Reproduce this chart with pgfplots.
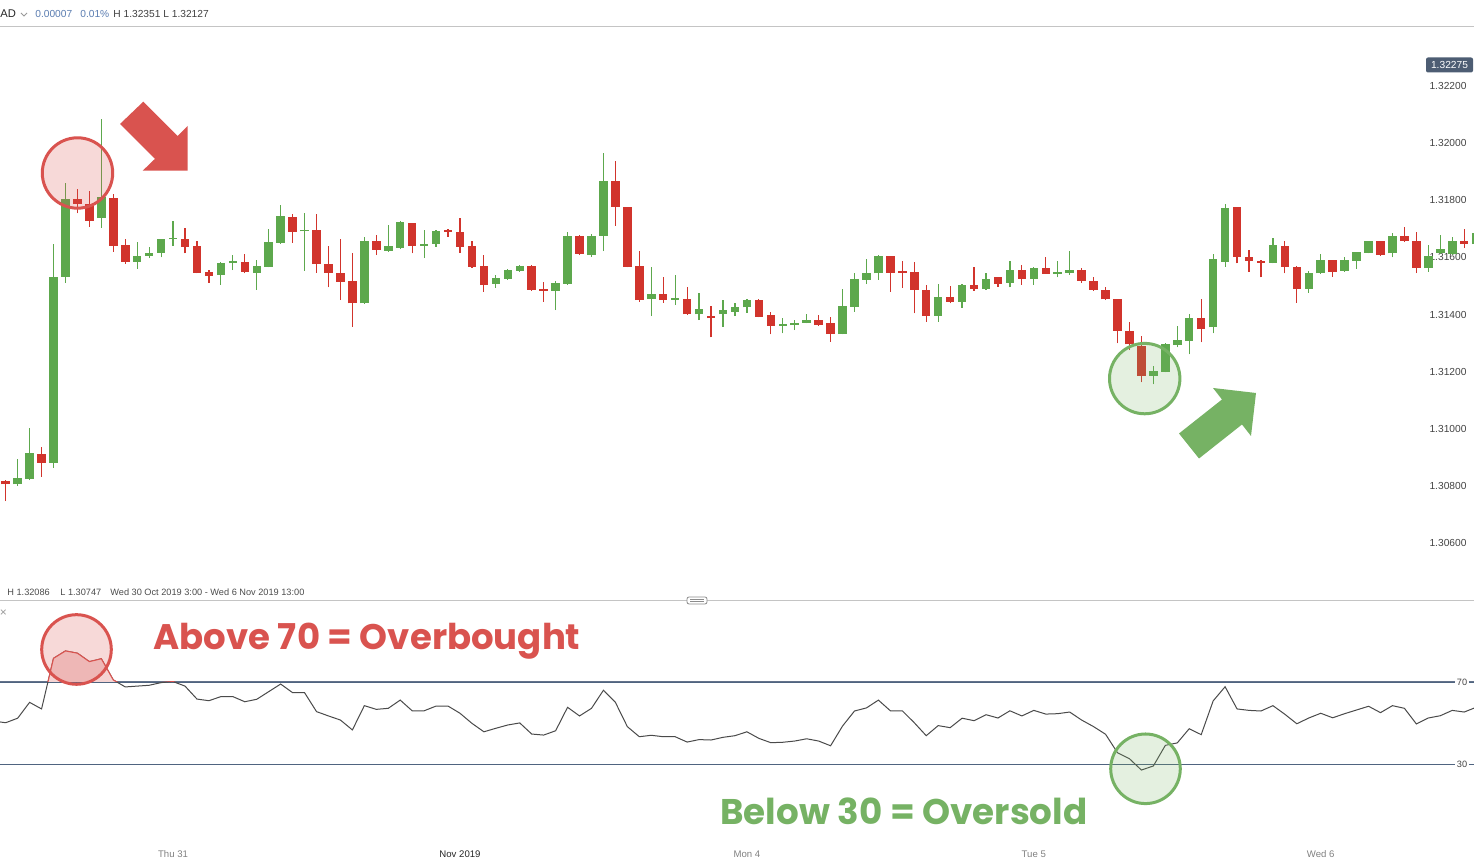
\documentclass[border=0pt]{standalone}
\usepackage{fontspec}
\setmainfont{Liberation Sans}
\newfontfamily\annofont{Poppins}
\usepackage{graphicx}
\usepackage{pgfplots}
\usepackage{pgfplotstable}
\pgfplotsset{compat=1.18}
\definecolor{cgreen}{HTML}{5DA84D}
\definecolor{cred}{HTML}{D1342C}
\definecolor{annored}{HTML}{D9534F}
\definecolor{annogreen}{HTML}{76B264}
\definecolor{rsiline}{HTML}{4A4A4A}
\definecolor{slate}{HTML}{4F6480}
\definecolor{tagbg}{HTML}{4D5D73}
\definecolor{hdrblue}{HTML}{5B7DB1}
\definecolor{lbl}{HTML}{444444}
\definecolor{sep}{HTML}{C4C4C4}

% prices in units of 0.00001 above 1.30000 (e.g. 1600 = 1.31600)
\pgfplotstableread{
i o h l c
1 805 894 800 826
2 824 1001 820 914
4 881 1647 863 1532
5 1532 1861 1511 1804
8 1737 2086 1704 1810
11 1585 1655 1561 1605
12 1605 1635 1597 1616
13 1616 1666 1600 1663
14 1663 1727 1641 1669
18 1540 1584 1505 1582
19 1579 1608 1555 1586
21 1546 1591 1486 1570
22 1567 1698 1565 1654
23 1651 1783 1647 1745
25 1691 1754 1553 1697
30 1439 1672 1438 1657
32 1623 1713 1620 1640
33 1634 1728 1629 1725
35 1641 1696 1597 1647
36 1648 1696 1637 1693
41 1507 1538 1494 1529
42 1525 1559 1522 1556
43 1553 1575 1550 1570
46 1483 1518 1415 1509
47 1507 1688 1505 1675
49 1608 1682 1602 1675
50 1675 1966 1622 1867
54 1454 1567 1394 1472
56 1452 1538 1433 1458
58 1400 1474 1380 1418
60 1400 1450 1357 1415
61 1410 1441 1394 1427
62 1425 1456 1406 1450
65 1360 1386 1334 1366
66 1363 1380 1345 1371
67 1371 1401 1369 1380
70 1331 1491 1330 1429
71 1427 1544 1409 1523
72 1521 1593 1506 1544
73 1544 1609 1521 1605
78 1396 1506 1375 1460
80 1445 1506 1424 1503
82 1489 1547 1487 1526
84 1511 1587 1495 1556
86 1525 1565 1505 1563
88 1543 1587 1530 1549
89 1546 1623 1540 1556
96 1185 1219 1155 1202
97 1199 1301 1197 1296
98 1293 1359 1285 1310
99 1307 1401 1260 1387
101 1355 1611 1334 1593
102 1584 1787 1567 1772
106 1581 1669 1579 1643
109 1490 1553 1476 1544
110 1544 1612 1542 1591
112 1553 1600 1550 1591
113 1588 1620 1561 1619
114 1616 1658 1614 1657
116 1614 1686 1600 1675
119 1562 1643 1550 1605
120 1617 1677 1612 1630
121 1612 1672 1610 1657
123 1646 1700 1640 1684
}\upc
\pgfplotstableread{
i o h l c
0 817 820 747 805
3 913 937 832 881
6 1804 1839 1754 1786
7 1786 1833 1707 1728
9 1807 1821 1620 1641
10 1643 1663 1577 1585
15 1663 1704 1614 1637
16 1640 1657 1544 1546
17 1550 1556 1511 1536
20 1583 1612 1544 1550
24 1740 1751 1651 1690
26 1696 1751 1546 1576
27 1577 1641 1495 1546
28 1545 1663 1450 1515
29 1517 1614 1357 1439
31 1657 1678 1608 1626
34 1720 1721 1614 1640
37 1696 1700 1672 1688
38 1688 1737 1616 1637
39 1640 1657 1564 1567
40 1570 1608 1480 1504
44 1570 1573 1484 1486
45 1489 1515 1445 1483
48 1675 1678 1610 1612
51 1867 1937 1710 1777
52 1776 1777 1565 1567
53 1570 1622 1445 1450
55 1472 1532 1441 1450
57 1456 1497 1399 1400
59 1394 1429 1320 1387
63 1450 1456 1390 1392
64 1397 1407 1330 1360
68 1380 1398 1361 1363
69 1369 1390 1304 1331
74 1605 1606 1480 1546
75 1552 1587 1494 1546
76 1549 1583 1404 1486
77 1486 1505 1375 1396
79 1461 1499 1439 1445
81 1503 1567 1483 1489
83 1531 1533 1497 1508
85 1556 1573 1505 1525
87 1563 1602 1542 1543
90 1556 1563 1511 1518
91 1517 1532 1484 1486
92 1486 1497 1450 1453
93 1454 1456 1299 1343
94 1342 1372 1275 1295
95 1289 1324 1162 1185
100 1387 1454 1302 1348
103 1775 1777 1579 1602
104 1600 1626 1550 1588
105 1588 1591 1530 1581
107 1640 1657 1544 1567
108 1565 1570 1441 1490
111 1591 1592 1532 1550
115 1657 1658 1605 1608
117 1675 1705 1653 1658
118 1657 1688 1545 1562
122 1657 1698 1632 1646
}\downc
\pgfplotstableread{
i r
-1 51.0
0 50.2
1 52.4
2 60.1
3 56.9
4 81.5
5 85.1
6 84.0
7 79.9
8 81.3
9 71.0
10 67.6
11 68.0
12 68.4
13 69.7
14 70.2
15 68.0
16 61.7
17 60.9
18 62.9
19 62.9
20 60.4
21 61.6
22 65.3
23 69.0
24 64.8
25 64.8
26 55.6
27 53.5
28 51.5
29 46.7
30 58.5
31 56.7
32 57.2
33 61.2
34 56.0
35 56.0
36 58.3
37 58.3
38 54.8
39 49.9
40 45.8
41 47.5
42 49.1
43 50.1
44 44.7
45 44.2
46 46.3
47 57.7
48 53.5
49 57.2
50 66.0
51 60.1
52 48.3
53 43.4
54 44.1
55 43.4
56 43.4
57 40.8
58 42.0
59 41.8
60 43.1
61 43.9
62 45.8
63 42.6
64 40.5
65 40.7
66 41.3
67 42.4
68 41.3
69 39.0
70 48.6
71 55.9
72 57.4
73 61.2
74 56.0
75 56.0
76 50.2
77 43.9
78 48.8
79 47.8
80 52.4
81 51.2
82 54.1
83 52.5
84 56.0
85 53.5
86 56.2
87 54.4
88 54.6
89 55.4
90 51.5
91 48.3
92 44.6
93 35.6
94 32.7
95 27.2
96 29.2
97 39.2
98 40.4
99 47.3
100 44.4
101 60.8
102 67.7
103 56.9
104 56.2
105 55.9
106 58.5
107 54.3
108 49.7
109 52.5
110 54.8
111 52.6
112 54.6
113 56.4
114 58.2
115 55.1
116 58.5
117 57.2
118 49.6
119 52.5
120 53.6
121 56.2
122 55.4
123 57.7
}\rsi

\pgfplotsset{candle/.style={draw=none, no markers, forget plot,
  error bars/y dir=plus, error bars/y explicit, error bars/error mark=none}}

\begin{document}
\begin{tikzpicture}
\path[use as bounding box] (0,0) rectangle (737pt,430pt);

% ---------------- price panel ----------------
\begin{axis}[
  at={(0pt,130pt)}, anchor=south west,
  width=737pt, height=286pt, scale only axis,
  xmin=-0.4768, xmax=122.82, ymin=400.5, ymax=2403.1,
  axis line style={draw=none}, tick style={draw=none},
  major tick length=0pt,
  xtick=\empty,
  ytick={600,800,...,2200},
  yticklabels={1.30600,1.30800,1.31000,1.31200,1.31400,1.31600,1.31800,1.32000,1.32200},
  yticklabel pos=right,
  yticklabel style={anchor=center, xshift=-13pt, font=\fontsize{5.1}{6}\selectfont, text=lbl},
]
\addplot[candle, error bars/error bar style={draw=cgreen, line width=0.6pt}]
  table[x=i, y=l, y error plus expr=\thisrow{h}-\thisrow{l}] {\upc};
\addplot[candle, error bars/error bar style={draw=cred, line width=0.6pt}]
  table[x=i, y=l, y error plus expr=\thisrow{h}-\thisrow{l}] {\downc};
\addplot[candle, error bars/error bar style={draw=cgreen, line width=4.25pt}]
  table[x=i, y=o, y error plus expr=\thisrow{c}-\thisrow{o}] {\upc};
\addplot[candle, error bars/error bar style={draw=cred, line width=4.25pt}]
  table[x=i, y=c, y error plus expr=\thisrow{o}-\thisrow{c}] {\downc};
\end{axis}

% ---------------- RSI panel ----------------
\begin{axis}[
  at={(0pt,8.5pt)}, anchor=south west,
  width=737pt, height=121pt, scale only axis,
  xmin=-0.4768, xmax=122.82, ymin=-8.25, ymax=109.37,
  axis line style={draw=none}, tick style={draw=none},
  major tick length=0pt,
  xtick={14,38,62,86,110},
  xticklabels={Thu 31,{\color{black!85}Nov 2019},Mon 4,Tue 5,Wed 6},
  xticklabel style={anchor=center, yshift=-5.5pt, font=\fontsize{4.8}{6}\selectfont, text=black!50},
  ytick={30,70}, yticklabels={30,70}, yticklabel pos=right,
  yticklabel style={anchor=center, xshift=-6pt, fill=white, inner sep=0.8pt,
    font=\fontsize{4.6}{6}\selectfont, text=lbl},
  ymajorgrids, grid style={slate, line width=0.55pt},
]
\addplot[rsiline, line width=0.5pt] table[x=i, y=r] {\rsi};
\end{axis}

% overbought part (above 70), clipped by this axis
\begin{axis}[
  at={(0pt,89pt)}, anchor=south west,
  width=737pt, height=40.5pt, scale only axis,
  xmin=-0.4768, xmax=122.82, ymin=70, ymax=109.37, hide axis,
]
\addplot[draw=none, fill=annored!25] table[x=i, y=r] {\rsi} \closedcycle;
\addplot[annored, line width=0.55pt] table[x=i, y=r] {\rsi};
\end{axis}

% ---------------- decorations (pixel coordinates) ----------------
\begin{scope}[x=0.5pt, y=-0.5pt, yshift=430pt]
  % header
  \draw[sep, line width=0.5pt] (0,27) -- (1474,27);
  \node[anchor=west, inner sep=0, font=\fontsize{5.6}{6}\selectfont, text=black!85] at (0,14) {AD};
  \draw[black!40, line width=0.5pt] (21,13) -- (24,16) -- (27,13);
  \node[anchor=west, inner sep=0, font=\fontsize{5.1}{6}\selectfont, text=hdrblue] at (35,14) {0.00007};
  \node[anchor=west, inner sep=0, font=\fontsize{5.1}{6}\selectfont, text=hdrblue] at (80,14) {0.01\%};
  \node[anchor=west, inner sep=0, font=\fontsize{5.1}{6}\selectfont, text=black!75] at (113,14) {H 1.32351};
  \node[anchor=west, inner sep=0, font=\fontsize{5.1}{6}\selectfont, text=black!75] at (163,14) {L 1.32127};
  % current price tag
  \fill[tagbg, rounded corners=1pt] (1426,57.5) rectangle (1473,72.5);
  \node[text=white, inner sep=0, font=\fontsize{5.1}{6}\selectfont] at (1449.5,65) {1.32275};
  % bottom info of price panel
  \node[anchor=west, inner sep=0, font=\fontsize{4.6}{6}\selectfont, text=black!70] at (7,592) {H 1.32086};
  \node[anchor=west, inner sep=0, font=\fontsize{4.6}{6}\selectfont, text=black!70] at (60,592) {L 1.30747};
  \node[anchor=west, inner sep=0, font=\fontsize{4.6}{6}\selectfont, text=black!70] at (110,592) {Wed 30 Oct 2019 3:00 - Wed 6 Nov 2019 13:00};
  % separator with handle
  \draw[sep, line width=0.5pt] (0,600.5) -- (1474,600.5);
  \draw[black!45, fill=white, line width=0.4pt, rounded corners=1pt] (687,597) rectangle (707,604);
  \draw[black!45, line width=0.4pt] (690,599.5) -- (704,599.5) (690,601.5) -- (704,601.5);
  \node[inner sep=0, font=\fontsize{6}{6}\selectfont, text=black!40] at (3.5,613) {\texttimes};

  % red circles and arrow
  \draw[annored, line width=1.5pt, fill=annored, fill opacity=0.22] (77.5,173) circle[radius=17.6pt];
  \draw[annored, line width=1.5pt, fill=annored, fill opacity=0.22] (76.5,649.5) circle[radius=17.4pt];
  \fill[annored] (143.3,101.7) -- (177.7,136) -- (187.7,126) -- (187.7,170.7)
     -- (142.7,170.7) -- (154.9,158.9) -- (120,124) -- cycle;
  % green circles and arrow
  \draw[annogreen, line width=1.5pt, fill=annogreen, fill opacity=0.2] (1144.7,378.6) circle[radius=17.6pt];
  \draw[annogreen, line width=1.5pt, fill=annogreen, fill opacity=0.2] (1145.5,768.8) circle[radius=17.4pt];
  \fill[annogreen] (1179,433.5) -- (1222,399.5) -- (1213,388) -- (1256,393)
     -- (1251,436) -- (1242,424.5) -- (1199,458.5) -- cycle;

  % texts
  \node[anchor=base west, inner sep=0, text=annored] at (153,649.5)
     {\resizebox{213.5pt}{!}{\annofont\bfseries Above 70 = Overbought}};
  \node[anchor=base west, inner sep=0, text=annogreen] at (720,825)
     {\resizebox{183.5pt}{!}{\annofont\bfseries Below 30 = Oversold}};
\end{scope}
\end{tikzpicture}
\end{document}
